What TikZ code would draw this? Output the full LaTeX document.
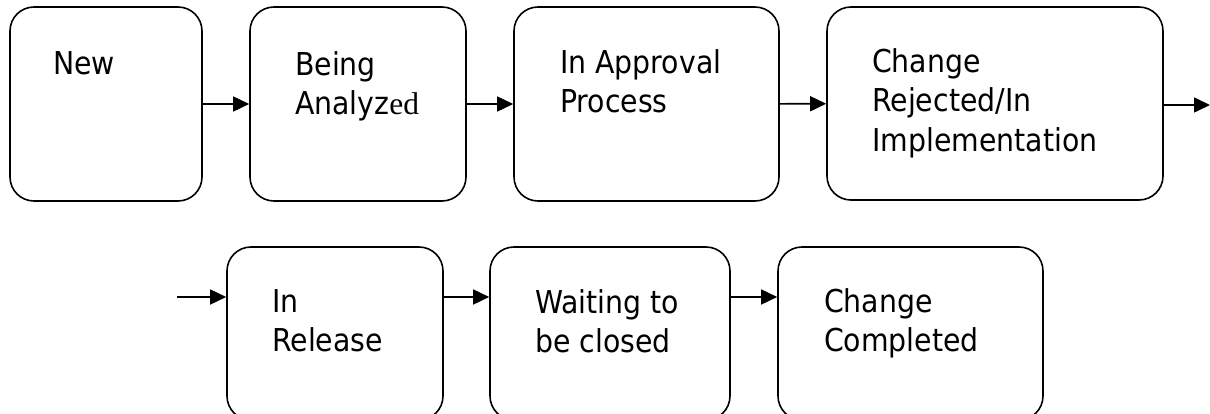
\documentclass[tikz,border=0pt]{standalone}
\usepackage{fontspec}
\setmainfont[FakeStretch=0.9]{DejaVu Sans}
\newfontfamily\edfont{Liberation Serif}
\usetikzlibrary{arrows.meta}

\begin{document}
\begin{tikzpicture}[x=1pt,y=-1pt,
    state/.style={draw, line width=1.6pt, rounded corners=24pt, inner sep=0pt},
    lbl/.style={anchor=north west, align=left, inner sep=0pt,
      font=\fontsize{31.5}{39.5}\selectfont},
    flow/.style={-{Triangle[length=16pt,width=15pt]}, line width=1.6pt}]
\useasboundingbox (0,0) rectangle (1210,414);

% top row
\node[state, minimum width=192pt, minimum height=194pt] (new) at (106,104) {};
\node[state, minimum width=216pt, minimum height=194pt] (ana) at (358,104) {};
\node[state, minimum width=265pt, minimum height=194pt] (appr) at (646.5,104) {};
\node[state, minimum width=336pt, minimum height=193pt] (chg) at (995,103.5) {};

% bottom row
\node[state, minimum width=216pt, minimum height=173pt] (rel) at (335,333.5) {};
\node[state, minimum width=240pt, minimum height=173pt] (wait) at (610,333.5) {};
\node[state, minimum width=265pt, minimum height=173pt] (done) at (910.5,333.5) {};

\node[lbl] (tnew) at (53,51) {New};
\node[lbl] (tana) at (295,51) {Being\\Analyz{\edfont ed}};
\node[lbl] (tappr) at (560,49) {In Approval\\Process};
\node[lbl] (tchg) at (872,48) {Change\\Rejected/In\\Implementation};
\node[lbl] (trel) at (272,289) {In\\Release};
\node[lbl] (twait) at (535,289) {Waiting to\\be closed};
\node[lbl] (tdone) at (824,288) {Change\\Completed};

\coordinate (outr) at (1210,105);
\coordinate (inl) at (177,297);

\draw[flow] (new) -- (ana);
\draw[flow] (ana) -- (appr);
\draw[flow] (appr) -- (chg);
\draw[flow] (chg.east |- outr) -- (outr);

\draw[flow] (inl) -- (inl -| rel.west);
\draw[flow] ([yshift=36.5pt]rel.east) -- ([yshift=36.5pt]wait.west);
\draw[flow] ([yshift=36.5pt]wait.east) -- ([yshift=36.5pt]done.west);

\end{tikzpicture}
\end{document}
